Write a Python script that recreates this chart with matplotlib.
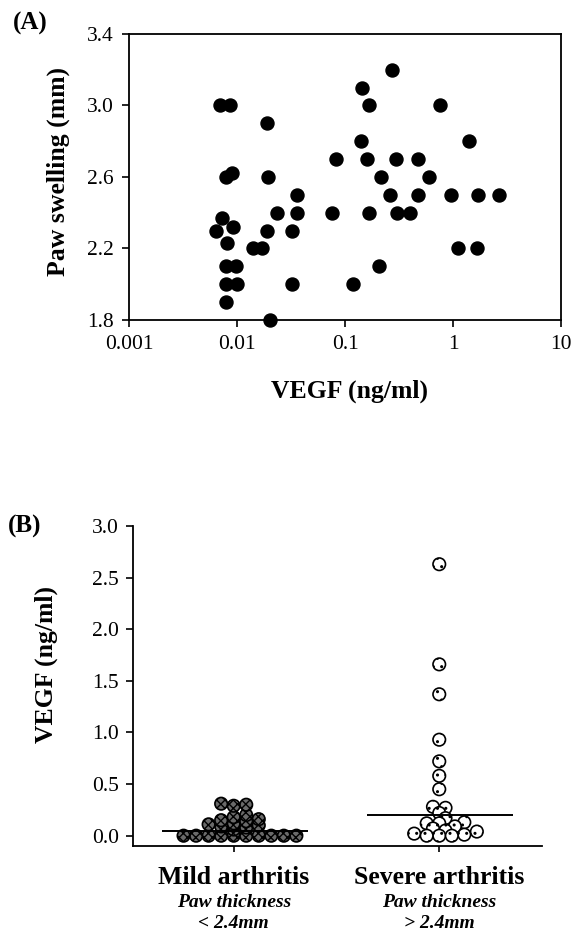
import numpy as np
import matplotlib
matplotlib.use("Agg")
import matplotlib.pyplot as plt

plt.rcParams['font.family'] = ['Liberation Serif', 'DejaVu Serif']

# panel A: VEGF vs paw swelling
vegf_a = [0.0069, 0.0086, 0.0187, 0.0818, 0.0079, 0.0089, 0.0194, 0.036,
          0.0232, 0.036, 0.0748, 0.0073, 0.0064, 0.0091, 0.0081, 0.019,
          0.0319, 0.0139, 0.0168, 0.0079, 0.0097, 0.0079, 0.0100, 0.0319,
          0.0079, 0.0201,
          0.269, 0.142, 0.166, 0.753, 0.139, 1.397, 0.158, 0.293, 0.468,
          0.217, 0.600, 0.263, 0.474, 0.966, 1.703, 2.65, 0.166, 0.303,
          0.397, 1.122, 1.667, 0.205, 0.119]
paw_a = [3.0, 3.0, 2.9, 2.7, 2.6, 2.62, 2.6, 2.5,
         2.4, 2.4, 2.4, 2.37, 2.3, 2.32, 2.23, 2.3,
         2.3, 2.2, 2.2, 2.1, 2.1, 2.0, 2.0, 2.0,
         1.9, 1.8,
         3.2, 3.1, 3.0, 3.0, 2.8, 2.8, 2.7, 2.7, 2.7,
         2.6, 2.6, 2.5, 2.5, 2.5, 2.5, 2.5, 2.4, 2.4,
         2.4, 2.2, 2.2, 2.1, 2.0]

# panel B: VEGF by group
groups = ["Mild arthritis", "Severe arthritis"]
sub1 = ["Paw thickness", "Paw thickness"]
sub2 = ["< 2.4mm", "> 2.4mm"]
mild = [0.0, 0.0, 0.0, 0.0, 0.0, 0.0, 0.0, 0.0, 0.0, 0.0,
        0.06, 0.08, 0.09, 0.10, 0.11, 0.12, 0.14, 0.15, 0.16, 0.18,
        0.20, 0.29, 0.30, 0.31]
severe = [2.63, 1.66, 1.37, 0.93, 0.72, 0.58, 0.45, 0.28, 0.27, 0.22,
          0.17, 0.13, 0.12, 0.12, 0.09, 0.07, 0.05, 0.04, 0.02, 0.01,
          0.0, 0.0, 0.0]
medians = [0.05, 0.20]


def swarm(vals, dx, dy):
    # simple beeswarm: nearest free slot to the centre line
    vals = np.asarray(vals)
    offs = np.zeros(len(vals))
    placed = []
    cands = [0.0]
    for k in range(1, 80):
        cands += [k * dx / 4, -k * dx / 4]
    for i in np.argsort(vals, kind="stable"):
        v = vals[i]
        for c in cands:
            if all(((c - px) / dx) ** 2 + ((v - py) / dy) ** 2 >= 1 for px, py in placed):
                break
        placed.append((c, v))
        offs[i] = c
    return offs


fig = plt.figure(figsize=(5.83, 9.34), dpi=100)

# ---- (A)
ax = fig.add_axes([0.2218, 0.6574, 0.7405, 0.3062])
ax.scatter(vegf_a, paw_a, s=88, c="black", edgecolors="black", zorder=3,
           clip_on=False)
ax.set_xscale("log")
ax.set_xlim(0.001, 10)
ax.set_ylim(1.8, 3.4)
ax.set_xticks([0.001, 0.01, 0.1, 1, 10])
ax.set_xticklabels(["0.001", "0.01", "0.1", "1", "10"])
ax.xaxis.set_minor_locator(matplotlib.ticker.NullLocator())
ax.set_yticks([1.8, 2.2, 2.6, 3.0, 3.4])
ax.set_yticklabels(["1.8", "2.2", "2.6", "3.0", "3.4"])
ax.tick_params(labelsize=15.5, direction="out", length=5, width=1.2, pad=6)
for sp in ax.spines.values():
    sp.set_linewidth(1.3)
ax.set_xlabel("VEGF (ng/ml)", fontsize=18.5, fontweight="bold", va="center")
ax.xaxis.set_label_coords(0.509, -0.251)
ax.set_ylabel("Paw swelling (mm)", fontsize=18.5, fontweight="bold", va="center")
ax.yaxis.set_label_coords(-0.165, 0.52)
fig.text(30 / 583, 1 - 23 / 934, "(A)", fontsize=18, fontweight="bold",
         ha="center", va="center")

# ---- (B)
bx = fig.add_axes([0.2281, 0.0942, 0.7016, 0.3426])
bx.set_xlim(-0.49, 1.50)
bx.set_ylim(-0.1, 3.0)
dx = 12.5 / 205
dy = 0.45 * 12.5 / 103
styles = [dict(facecolor="#6a6a6a", edgecolor="black", hatch="xxxx"),
          dict(facecolor="white", edgecolor="black", hatch="..")]
for gi, vals in enumerate([mild, severe]):
    offs = swarm(vals, dx, dy)
    bx.scatter(gi + offs, vals, s=81, linewidths=1.2, zorder=3,
               clip_on=False, **styles[gi])
    bx.hlines(medians[gi], gi - 0.35, gi + 0.36, colors="black",
              linewidth=1.4, zorder=4)
bx.spines["top"].set_visible(False)
bx.spines["right"].set_visible(False)
bx.spines["left"].set_linewidth(1.3)
bx.spines["bottom"].set_linewidth(1.3)
bx.set_yticks([0.0, 0.5, 1.0, 1.5, 2.0, 2.5, 3.0])
bx.set_yticklabels(["0.0", "0.5", "1.0", "1.5", "2.0", "2.5", "3.0"])
bx.set_xticks([0, 1])
bx.set_xticklabels(["", ""])
bx.tick_params(labelsize=15.5, direction="out", length=5, width=1.2, pad=5)
bx.tick_params(axis="x", length=4)
bx.set_ylabel("VEGF (ng/ml)", fontsize=18.5, fontweight="bold", va="center")
bx.yaxis.set_label_coords(-0.213, 0.566)
for gi in range(2):
    bx.annotate(groups[gi], xy=(gi, 0), xycoords=("data", "axes fraction"),
                xytext=(0, -22.5), textcoords="offset points", ha="center",
                va="center", fontsize=18.5, fontweight="bold")
    bx.annotate(sub1[gi], xy=(gi, 0), xycoords=("data", "axes fraction"),
                xytext=(0, -41), textcoords="offset points", ha="center",
                va="center", fontsize=14, fontweight="bold", style="italic")
    bx.annotate(sub2[gi], xy=(gi, 0), xycoords=("data", "axes fraction"),
                xytext=(0, -56), textcoords="offset points", ha="center",
                va="center", fontsize=14, fontweight="bold", style="italic")
fig.text(25 / 583, 1 - 526 / 934, "(B)", fontsize=18, fontweight="bold",
         ha="center", va="center")

fig.savefig("out.png", dpi=100)
